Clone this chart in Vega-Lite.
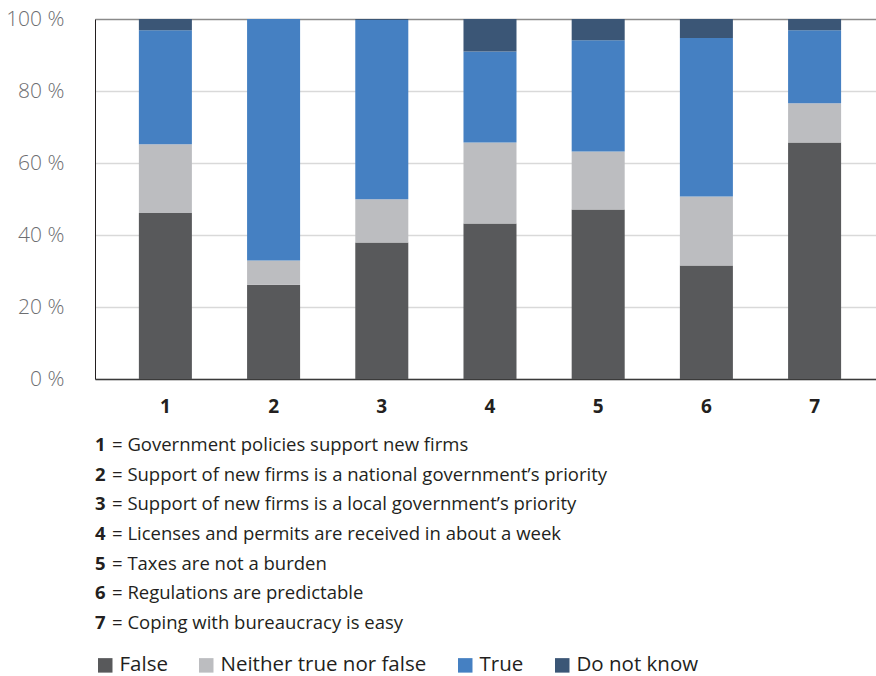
{
  "$schema": "https://vega.github.io/schema/vega-lite/v6.json",
  "padding": {"left": 5, "top": 8, "right": 0, "bottom": 0},
  "background": "white",
  "datasets": {
    "bars": [
      {"item": "1", "answer": "False", "share": 46.1},
      {"item": "1", "answer": "Neither true nor false", "share": 19.1},
      {"item": "1", "answer": "True", "share": 31.7},
      {"item": "1", "answer": "Do not know", "share": 3.1},
      {"item": "2", "answer": "False", "share": 26.2},
      {"item": "2", "answer": "Neither true nor false", "share": 6.7},
      {"item": "2", "answer": "True", "share": 67.1},
      {"item": "2", "answer": "Do not know", "share": 0.0},
      {"item": "3", "answer": "False", "share": 37.9},
      {"item": "3", "answer": "Neither true nor false", "share": 12.0},
      {"item": "3", "answer": "True", "share": 49.8},
      {"item": "3", "answer": "Do not know", "share": 0.3},
      {"item": "4", "answer": "False", "share": 43.2},
      {"item": "4", "answer": "Neither true nor false", "share": 22.5},
      {"item": "4", "answer": "True", "share": 25.3},
      {"item": "4", "answer": "Do not know", "share": 9.0},
      {"item": "5", "answer": "False", "share": 47.1},
      {"item": "5", "answer": "Neither true nor false", "share": 16.1},
      {"item": "5", "answer": "True", "share": 30.9},
      {"item": "5", "answer": "Do not know", "share": 5.9},
      {"item": "6", "answer": "False", "share": 31.5},
      {"item": "6", "answer": "Neither true nor false", "share": 19.2},
      {"item": "6", "answer": "True", "share": 44.0},
      {"item": "6", "answer": "Do not know", "share": 5.3},
      {"item": "7", "answer": "False", "share": 65.7},
      {"item": "7", "answer": "Neither true nor false", "share": 10.9},
      {"item": "7", "answer": "True", "share": 20.3},
      {"item": "7", "answer": "Do not know", "share": 3.1}
    ],
    "items": [
      {"n": "1", "label": "= Government policies support new firms"},
      {"n": "2", "label": "= Support of new firms is a national government’s priority"},
      {"n": "3", "label": "= Support of new firms is a local government’s priority"},
      {"n": "4", "label": "= Licenses and permits are received in about a week"},
      {"n": "5", "label": "= Taxes are not a burden"},
      {"n": "6", "label": "= Regulations are predictable"},
      {"n": "7", "label": "= Coping with bureaucracy is easy"}
    ]
  },
  "vconcat": [
    {
      "width": 781,
      "height": 360,
      "data": {"name": "bars"},
      "transform": [
        {"calculate": "indexof(['False','Neither true nor false','True','Do not know'], datum.answer)", "as": "ord"}
      ],
      "mark": {"type": "bar"},
      "encoding": {
        "x": {
          "field": "item",
          "type": "ordinal",
          "scale": {"paddingInner": 0.51, "paddingOuter": 0.364, "align": 0.557},
          "axis": {
            "title": null,
            "labelAngle": 0,
            "labelFontSize": 19,
            "labelFontWeight": "bold",
            "labelColor": "#231f20",
            "labelPadding": 18,
            "ticks": false,
            "domain": true,
            "domainColor": "#3a3a3a",
            "domainWidth": 1.5,
            "grid": false
          }
        },
        "y": {
          "field": "share",
          "type": "quantitative",
          "stack": "zero",
          "scale": {"domain": [0, 100], "nice": false},
          "axis": {
            "title": null,
            "values": [0, 20, 40, 60, 80, 100],
            "labelExpr": "datum.value + ' %'",
            "labelFontSize": 21,
            "labelFontWeight": 300,
            "labelColor": "#6d6e71",
            "labelPadding": 31,
            "ticks": false,
            "domain": true,
            "domainColor": "#231f20",
            "domainWidth": 1,
            "grid": true,
            "gridColor": {"condition": {"test": "datum.value === 100", "value": "#8a8a8a"}, "value": "#d9d9d9"},
            "gridWidth": 1.5
          }
        },
        "color": {
          "field": "answer",
          "type": "nominal",
          "sort": ["False", "Neither true nor false", "True", "Do not know"],
          "scale": {
            "domain": ["False", "Neither true nor false", "True", "Do not know"],
            "range": ["#58595b", "#bcbdc0", "#4580c2", "#3b5676"]
          },
          "legend": {
            "title": null,
            "orient": "bottom",
            "direction": "horizontal",
            "symbolType": "square",
            "symbolSize": 210,
            "symbolStrokeWidth": 0,
            "labelFontSize": 20.5,
            "labelLimit": 400,
            "labelColor": "#231f20",
            "labelOffset": 4,
            "columnPadding": 28,
            "offset": 17
          }
        },
        "order": {"field": "ord", "type": "quantitative"}
      }
    },
    {
      "width": 781,
      "height": 208,
      "data": {"name": "items"},
      "encoding": {
        "y": {"field": "n", "type": "ordinal", "axis": null, "scale": {"type": "point", "padding": 0.5}},
        "x": {"datum": 0, "type": "quantitative", "scale": {"domain": [0, 1]}, "axis": null}
      },
      "layer": [
        {
          "mark": {"type": "text", "align": "left", "baseline": "middle", "fontWeight": "bold", "fontSize": 18.5, "color": "#231f20"},
          "encoding": {"text": {"field": "n"}}
        },
        {
          "mark": {"type": "text", "align": "left", "baseline": "middle", "fontSize": 18.5, "color": "#231f20", "dx": 17},
          "encoding": {"text": {"field": "label"}}
        }
      ]
    }
  ],
  "spacing": 51,
  "bounds": "flush",
  "config": {
    "font": "Open Sans",
    "view": {"stroke": null},
    "axis": {"labelFont": "Open Sans"},
    "legend": {"labelFont": "Open Sans"}
  }
}
